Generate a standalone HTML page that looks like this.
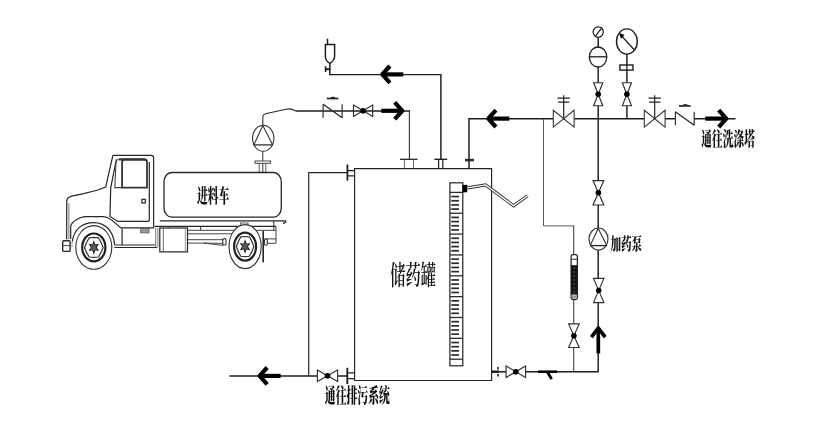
<!DOCTYPE html>
<html lang="zh">
<head>
<meta charset="utf-8">
<title>加药系统流程图</title>
<style>
html,body{margin:0;padding:0;background:#fff;}
body{width:839px;height:433px;overflow:hidden;position:relative;}
svg{display:block;position:absolute;left:0;top:0;filter:blur(0.45px);}
text{font-family:"Liberation Serif","Noto Serif CJK SC",serif;fill:#111;}
</style>
</head>
<body>
<svg width="839" height="433" viewBox="0 0 839 433">
<rect x="0" y="0" width="839" height="433" fill="#fff"/>
<g fill="none" stroke="#1c1c1c" stroke-width="1.45" stroke-linecap="butt" stroke-linejoin="miter">

<!-- ===== storage tank ===== -->
<g id="tank" stroke-width="1.15" stroke="#222">
<path d="M354.6,168.6 H491.6 V380.5 H354.6 Z"/>
<path d="M347.4,172.6 H308.7 V375.7"/>
<path d="M347.4,164.4 V180.6" stroke-width="1.8"/>
<path d="M347.5,170.6 H354.5 M347.5,175.8 H354.5" stroke="#222" stroke-width="1.2"/>
<!-- nozzles -->
<path d="M400,159.3 H417.5" stroke-width="1.3"/>
<path d="M404.4,159.3 V168.6 M413.5,159.3 V168.6" stroke="#555" stroke-width="0.9"/>
<path d="M434.4,159.3 H447.2" stroke-width="1.4"/>
<path d="M438.6,159.3 V168.6 M442.8,159.3 V168.6" stroke-width="1.2"/>
<path d="M465,160.1 H474" stroke="#333" stroke-width="2.6"/>
<!-- level gauge -->
<rect x="449.9" y="182.8" width="12.9" height="183" fill="#fff" stroke-width="1.2"/>
<g stroke="#2a2a2a">
<line x1="450" y1="192.40" x2="462.8" y2="192.40" stroke-width="1.3"/>
<line x1="451.3" y1="196.57" x2="459" y2="196.57" stroke-width="1.7"/>
<line x1="451.3" y1="200.74" x2="459" y2="200.74" stroke-width="1.7"/>
<line x1="451.3" y1="204.91" x2="459" y2="204.91" stroke-width="1.7"/>
<line x1="451.3" y1="209.08" x2="459" y2="209.08" stroke-width="1.7"/>
<line x1="450" y1="213.25" x2="462.8" y2="213.25" stroke-width="1.3"/>
<line x1="451.3" y1="217.42" x2="459" y2="217.42" stroke-width="1.7"/>
<line x1="451.3" y1="221.59" x2="459" y2="221.59" stroke-width="1.7"/>
<line x1="451.3" y1="225.76" x2="459" y2="225.76" stroke-width="1.7"/>
<line x1="451.3" y1="229.93" x2="459" y2="229.93" stroke-width="1.7"/>
<line x1="450" y1="234.10" x2="462.8" y2="234.10" stroke-width="1.3"/>
<line x1="451.3" y1="238.27" x2="459" y2="238.27" stroke-width="1.7"/>
<line x1="451.3" y1="242.44" x2="459" y2="242.44" stroke-width="1.7"/>
<line x1="451.3" y1="246.61" x2="459" y2="246.61" stroke-width="1.7"/>
<line x1="451.3" y1="250.78" x2="459" y2="250.78" stroke-width="1.7"/>
<line x1="450" y1="254.95" x2="462.8" y2="254.95" stroke-width="1.3"/>
<line x1="451.3" y1="259.12" x2="459" y2="259.12" stroke-width="1.7"/>
<line x1="451.3" y1="263.29" x2="459" y2="263.29" stroke-width="1.7"/>
<line x1="451.3" y1="267.46" x2="459" y2="267.46" stroke-width="1.7"/>
<line x1="451.3" y1="271.63" x2="459" y2="271.63" stroke-width="1.7"/>
<line x1="450" y1="275.80" x2="462.8" y2="275.80" stroke-width="1.3"/>
<line x1="451.3" y1="279.97" x2="459" y2="279.97" stroke-width="1.7"/>
<line x1="451.3" y1="284.14" x2="459" y2="284.14" stroke-width="1.7"/>
<line x1="451.3" y1="288.31" x2="459" y2="288.31" stroke-width="1.7"/>
<line x1="451.3" y1="292.48" x2="459" y2="292.48" stroke-width="1.7"/>
<line x1="450" y1="296.65" x2="462.8" y2="296.65" stroke-width="1.3"/>
<line x1="451.3" y1="300.82" x2="459" y2="300.82" stroke-width="1.7"/>
<line x1="451.3" y1="304.99" x2="459" y2="304.99" stroke-width="1.7"/>
<line x1="451.3" y1="309.16" x2="459" y2="309.16" stroke-width="1.7"/>
<line x1="451.3" y1="313.33" x2="459" y2="313.33" stroke-width="1.7"/>
<line x1="450" y1="317.50" x2="462.8" y2="317.50" stroke-width="1.3"/>
<line x1="451.3" y1="321.67" x2="459" y2="321.67" stroke-width="1.7"/>
<line x1="451.3" y1="325.84" x2="459" y2="325.84" stroke-width="1.7"/>
<line x1="451.3" y1="330.01" x2="459" y2="330.01" stroke-width="1.7"/>
<line x1="451.3" y1="334.18" x2="459" y2="334.18" stroke-width="1.7"/>
<line x1="450" y1="338.35" x2="462.8" y2="338.35" stroke-width="1.3"/>
<line x1="451.3" y1="342.52" x2="459" y2="342.52" stroke-width="1.7"/>
<line x1="451.3" y1="346.69" x2="459" y2="346.69" stroke-width="1.7"/>
<line x1="451.3" y1="350.86" x2="459" y2="350.86" stroke-width="1.7"/>
<line x1="451.3" y1="355.03" x2="459" y2="355.03" stroke-width="1.7"/>
<line x1="450" y1="359.20" x2="462.8" y2="359.20" stroke-width="1.3"/>
</g>
<rect x="462.6" y="184.9" width="4.6" height="7.4" fill="#000" stroke="none"/>
<path d="M467.4,187.9 L485.6,184.9 L513.6,205.8 L527.6,195.8" stroke="#333" stroke-width="3.2"/>
<path d="M467.4,187.9 L485.6,184.9 L513.6,205.8 L527.6,195.8" stroke="#fff" stroke-width="1.3"/>
</g>

<!-- ===== piping ===== -->
<g id="pipes">
<!-- vent -->
<path d="M440.9,159.3 V74.6 H329.8 V63.5"/>
<path d="M325.6,66.3 V72.1" stroke-width="1.6"/>
<path d="M325.6,69.2 H330.5" stroke-width="1.9"/>
<path d="M325.4,44.4 H334.6 V56.8 Q334.2,61 329.8,63.5 Q325.6,61 325.4,56.8 Z" fill="#fff"/>
<path d="M327.5,38.7 V44.4"/>
<!-- inlet from truck pump -->
<path d="M262.8,125.5 V116.5 Q263,114.6 265.5,113.8 L286,109.2 Q290.5,108.3 293,109.8 Q294.5,111 297,111" stroke="#2a2a2a" stroke-width="1.1"/>
<path d="M296.5,111 H410" stroke-width="1.3"/>
<path d="M409.4,111 V159.3" stroke="#333" stroke-width="1.1"/>
<!-- to tank from dosing return -->
<path d="M469,168.6 V118.7 H735.5"/>
<!-- vertical main -->
<path d="M598.2,38 V371.7 H491.7"/>
<path d="M626.9,53 V118.7"/>
<!-- flowmeter branch -->
<path d="M543.5,118.7 V225.9 H573.7" stroke="#5a5a5a" stroke-width="1"/>
<path d="M573.7,225.4 V371.7" stroke="#444" stroke-width="1.1"/>
<!-- drain -->
<path d="M229.5,375.9 H347.5"/>
<path d="M347.3,367.8 V384" stroke-width="1.8"/>
<path d="M347.5,372.9 H354.5 M347.5,378.6 H354.5" stroke="#222" stroke-width="1.2"/>
<!-- outlet small flange -->
<path d="M498,366.9 V376.6" stroke-width="1.6" stroke-dasharray="2.6,1"/>
<path d="M491.7,371.7 H498.4" stroke-width="2.4"/>
<!-- Y strainer -->
<path d="M538,371.7 H557" stroke="#000" stroke-width="2.6"/>
<path d="M547.2,371.7 L551.6,378.9" stroke="#000" stroke-width="2.8"/>
</g>

<!-- ===== valves ===== -->
<g id="valves">
<path d="M323.1,104.3 V117.7 M342.1,104.3 V117.7" stroke="#333" stroke-width="1.2" fill="none"/><path d="M323.1,104.3 L342.1,117.7" stroke="#2a2a2a" stroke-width="1.4" fill="none"/><path d="M326.8,98.5 H338.40000000000003" stroke="#222" stroke-width="1.7"/><path d="M331.1,97.5 H335.1" stroke="#222" stroke-width="1.4"/>
<path d="M353.50,105.05 L372.70,116.55 L372.70,105.05 L353.50,116.55 Z" fill="none" stroke="#303030" stroke-width="1.15"/><circle cx="363.1" cy="110.8" r="2.8" fill="#000" stroke="none"/>
<path d="M553.30,110.20 L574.10,127.20 L574.10,110.20 L553.30,127.20 Z" fill="#fff" stroke="#3a3a3a" stroke-width="1.1"/><path d="M563.7,118.7 V95.2" stroke="#222" stroke-width="1.2"/><path d="M557.5,98.1 H569.9000000000001 M558.1,102.2 H569.3000000000001" stroke="#222" stroke-width="1.2"/>
<path d="M644.30,110.20 L665.10,127.20 L665.10,110.20 L644.30,127.20 Z" fill="#fff" stroke="#3a3a3a" stroke-width="1.1"/><path d="M654.7,118.7 V95.2" stroke="#222" stroke-width="1.2"/><path d="M648.5,98.1 H660.9000000000001 M649.1,102.2 H660.3000000000001" stroke="#222" stroke-width="1.2"/>
<rect x="675.4" y="110.7" width="18.800000000000068" height="15.6" fill="#fff" stroke="none"/><path d="M675.4,111.7 V125.3 M694.2,111.7 V125.3" stroke="#333" stroke-width="1.2" fill="none"/><path d="M675.4,111.7 L694.2,125.3" stroke="#2a2a2a" stroke-width="1.4" fill="none"/><path d="M679.0,105.9 H690.5999999999999" stroke="#222" stroke-width="1.7"/><path d="M683.3,104.9 H687.3" stroke="#222" stroke-width="1.4"/>
<path d="M593.60,82.70 L602.80,82.70 L593.60,105.70 L602.80,105.70 Z" fill="#fff" stroke="#303030" stroke-width="1.15"/><circle cx="598.2" cy="94.2" r="2.8" fill="#000" stroke="none"/>
<path d="M622.30,82.70 L631.50,82.70 L622.30,105.70 L631.50,105.70 Z" fill="#fff" stroke="#303030" stroke-width="1.15"/><circle cx="626.9" cy="94.2" r="2.8" fill="#000" stroke="none"/>
<path d="M593.00,180.60 L603.80,180.60 L593.00,205.00 L603.80,205.00 Z" fill="#fff" stroke="#303030" stroke-width="1.15"/><circle cx="598.4" cy="192.8" r="2.8" fill="#000" stroke="none"/>
<path d="M593.50,278.40 L603.90,278.40 L593.50,302.60 L603.90,302.60 Z" fill="#fff" stroke="#303030" stroke-width="1.15"/><circle cx="598.7" cy="290.5" r="2.8" fill="#000" stroke="none"/>
<path d="M568.60,323.90 L579.20,323.90 L568.60,347.50 L579.20,347.50 Z" fill="#fff" stroke="#303030" stroke-width="1.15"/><circle cx="573.9" cy="335.7" r="2.8" fill="#000" stroke="none"/>
<path d="M317.40,370.00 L337.60,381.60 L337.60,370.00 L317.40,381.60 Z" fill="#fff" stroke="#303030" stroke-width="1.15"/><circle cx="327.5" cy="375.8" r="2.8" fill="#000" stroke="none"/>
<path d="M506.05,365.90 L525.55,377.50 L525.55,365.90 L506.05,377.50 Z" fill="#fff" stroke="#303030" stroke-width="1.15"/><circle cx="515.8" cy="371.7" r="2.8" fill="#000" stroke="none"/>
</g>

<!-- ===== instruments ===== -->
<g id="instruments">
<ellipse cx="598.2" cy="32.1" rx="5.1" ry="5.2" fill="#fff" stroke-width="1.2"/>
<path d="M595.6,35.8 L602.2,27.4" stroke-width="1.2"/>
<ellipse cx="598.05" cy="57" rx="8.7" ry="10" fill="#fff" stroke-width="1.3"/>
<path d="M589.4,56.8 H606.8" stroke-width="1.3"/>
<ellipse cx="626.9" cy="41.5" rx="10.4" ry="12.6" fill="#fff" stroke-width="1.4"/>
<path d="M620.4,34.6 L634.4,50" stroke-width="1.3"/>
<path d="M619.8,33.6 L624,35.2 L621.2,38.2 Z" fill="#000" stroke="#000" stroke-width="0.8"/>
<rect x="619.9" y="65" width="13.1" height="5.1" fill="#fff" stroke-width="1.4"/>
<path d="M626.9,65 V70.1" stroke-width="1.2"/>
<!-- flow meter -->
<rect x="571.1" y="254.6" width="6.3" height="44.9" rx="1.8" fill="#fff" stroke="#2a2a2a" stroke-width="1.3"/>
<rect x="571.1" y="265.2" width="6.3" height="29.4" fill="#141414" stroke="none"/>
<path d="M574.3,267 V293" stroke="#555" stroke-width="1" stroke-dasharray="2.2,1.8"/>
<rect x="571.8" y="295.3" width="4.9" height="3.2" fill="#999" stroke="none"/>
<path d="M571.1,259.3 H577.4" stroke="#333" stroke-width="1"/>
<!-- dosing pump -->
<ellipse cx="598.5" cy="239.1" rx="9.5" ry="11.1" fill="#fff" stroke="#3a3a3a" stroke-width="1.2"/>
<path d="M598.2,228.4 L590.2,245.5 M598.2,228.4 L606.8,245.5" stroke="#333" stroke-width="1.1"/>
<path d="M589.8,245.6 H607.2" stroke="#222" stroke-width="1.3"/>
<!-- truck pump -->
<ellipse cx="263.2" cy="138.3" rx="10.7" ry="13" fill="#fff" stroke="#333" stroke-width="1.1"/>
<path d="M262.8,125.6 L253.9,144.8 M262.8,125.6 L272.6,144.8" stroke="#333" stroke-width="1.1"/>
<path d="M253.4,144.9 H273" stroke="#222" stroke-width="1.2"/>
<path d="M262.8,151.3 V172" stroke="#333" stroke-width="1"/>
<rect x="255" y="161" width="15.5" height="2.3" fill="#fff" stroke="#333" stroke-width="0.9"/>
<path d="M259.2,163.3 V172 M265.8,163.3 V172" stroke="#444" stroke-width="0.9"/>
</g>

<!-- ===== arrows ===== -->
<g id="arrows">
<path d="M382.3,74.4 H403.3" stroke="#000" stroke-width="4.2" fill="none" stroke-linejoin="round"/><path d="M389.90000000000003,66.0 L382.3,74.4 L389.90000000000003,82.80000000000001" stroke="#000" stroke-width="4.2" fill="none" stroke-linejoin="round"/>
<path d="M402.3,110.8 H381.3" stroke="#000" stroke-width="4.2" fill="none" stroke-linejoin="round"/><path d="M394.7,102.39999999999999 L402.3,110.8 L394.7,119.2" stroke="#000" stroke-width="4.2" fill="none" stroke-linejoin="round"/>
<path d="M488.3,118.6 H509.3" stroke="#000" stroke-width="4.2" fill="none" stroke-linejoin="round"/><path d="M495.90000000000003,110.19999999999999 L488.3,118.6 L495.90000000000003,127.0" stroke="#000" stroke-width="4.2" fill="none" stroke-linejoin="round"/>
<path d="M726.3000000000001,118.6 H705.3000000000001" stroke="#000" stroke-width="4.2" fill="none" stroke-linejoin="round"/><path d="M718.7,110.19999999999999 L726.3000000000001,118.6 L718.7,127.0" stroke="#000" stroke-width="4.2" fill="none" stroke-linejoin="round"/>
<path d="M259.6,375.9 H280.6" stroke="#000" stroke-width="4.2" fill="none" stroke-linejoin="round"/><path d="M267.20000000000005,367.5 L259.6,375.9 L267.20000000000005,384.29999999999995" stroke="#000" stroke-width="4.2" fill="none" stroke-linejoin="round"/>
<path d="M598.3,328.0 V353.4" stroke="#000" stroke-width="3.7" fill="none" stroke-linejoin="round"/><path d="M591.4,337.2 L598.3,328.0 L605.1999999999999,337.2" stroke="#000" stroke-width="3.7" fill="none" stroke-linejoin="round"/>
</g>

<!-- ===== truck ===== -->
<g id="truck" stroke="#262626" stroke-width="1.2">
<!-- tank -->
<rect x="164" y="172.5" width="117.3" height="44.6" rx="7.6" ry="9.4" fill="#fff" stroke-width="1.3"/>
<!-- platform -->
<path d="M159.8,220.8 H285.6 V222.2 L283,223.6" stroke-width="1.3"/>
<path d="M154.6,226.3 H276" stroke-width="1.3"/>
<path d="M187.5,230.3 H276 M187.5,233.8 H232 M187.5,239.7 H224 M187.5,243.1 H205" stroke="#444" stroke-width="1"/>
<path d="M200.6,226.3 V230.3 M273.8,221 V230.3" stroke="#333" stroke-width="1"/>
<path d="M204,243.1 L222.6,245.4 V243.4 Z" stroke="#333" stroke-width="0.9"/>
<rect x="222.8" y="238.6" width="3.2" height="6.4" rx="1.3" fill="#fff" stroke="#333" stroke-width="1.1"/>
<!-- rear frame -->
<path d="M276,226.3 V243.3 H265 M266,238.9 H276" stroke="#444" stroke-width="1"/>
<path d="M263.2,230.9 V262.2" stroke-width="1.6"/>
<rect x="264.4" y="238.9" width="2.9" height="6.4" rx="1.2" fill="#fff" stroke="#333" stroke-width="1.1"/>
<!-- tool box -->
<rect x="159.8" y="228" width="27.7" height="23.9" fill="#fff" stroke-width="1.2"/>
<path d="M163.3,228 V251.9" stroke="#555" stroke-width="0.9"/>
<path d="M185.3,228 V251.9" stroke="#777" stroke-width="0.8"/>
<path d="M163.8,226.5 H169 V228" stroke="#333" stroke-width="1"/>
<!-- cab -->
<path d="M112.9,155.3 H151.2 Q153.6,155.3 153.6,157.8 V227.9"/>
<path d="M112.9,155.3 L105.7,187.1 L97.9,190 L83.6,193.6 L71.5,196.2 Q66.7,197.4 66.7,202 V239.5"/>
<path d="M68.9,203 V239.5" stroke="#555" stroke-width="0.8"/>
<path d="M116.4,159.3 L110.7,187.9 L110,216.4 L117.9,221.4 H147.9 Q149.3,221.4 149.3,220 V162"/>
<path d="M122.1,187.6 V162 Q122.1,159.5 124.8,159.5 H144.3 Q147,159.5 147,162 V187.6 Z" stroke="#333" stroke-width="1.8"/>
<path d="M119,159.4 H145" stroke="#333" stroke-width="2.2"/>
<path d="M122.1,159.3 H119 Q116.5,159.6 116,162 L114.8,187.6 H122.1" stroke="#444" stroke-width="1.1"/>
<rect x="141.9" y="199.4" width="3.4" height="3.6" stroke-width="1.2"/>
<!-- bumper -->
<rect x="62.7" y="240.8" width="7.4" height="10.6" rx="1" fill="#fff" stroke="#2a2a2a" stroke-width="1.4"/>
<path d="M62.9,245.6 H70.1" stroke="#444" stroke-width="1"/>
<path d="M70.1,243 H73 M70.1,246 H73" stroke="#555" stroke-width="0.8"/>
<!-- fender -->
<path d="M70.7,239 V226.5 Q71.5,222.5 76,220 Q80,217.2 84.5,216.6 H103.6 Q108,217 112,220.4 L121,227.9 H153.6"/>
<path d="M72.3,241.4 C74,229 82.5,222.6 93.5,222.6 C105.5,222.6 113.5,231 114.6,244.8" />
<!-- step box -->
<path d="M122.1,228.6 V245 H155 M114.3,245 H122.1 M114.3,247.5 H157"/>
<path d="M155.7,227.9 V247.5 M157.9,227.9 V247.5" stroke="#555" stroke-width="0.8"/>
<rect x="140.7" y="228.6" width="8.3" height="4.3" fill="#999" stroke="#555" stroke-width="0.8"/>
<!-- wheels -->
<ellipse cx="93.8" cy="247.4" rx="18" ry="21.8" fill="#fff" stroke="#333" stroke-width="1.1"/><ellipse cx="93.8" cy="247.4" rx="11.6" ry="13.9" fill="none" stroke="#222" stroke-width="2.2"/><polygon points="103.10,247.40 101.05,252.40 98.45,257.01 93.80,257.39 89.15,257.01 86.55,252.40 84.50,247.40 86.55,242.41 89.15,237.79 93.80,237.41 98.45,237.79 101.05,242.41" fill="none" stroke="#333" stroke-width="1.2"/><polygon points="93.80,241.80 94.95,245.06 97.92,244.60 96.09,247.40 97.92,250.20 94.95,249.74 93.80,253.00 92.65,249.74 89.68,250.20 91.50,247.40 89.68,244.60 92.65,245.06" fill="#999" stroke="#222" stroke-width="1.1"/><ellipse cx="93.8" cy="247.4" rx="1.7" ry="2" fill="#666" stroke="#333" stroke-width="0.7"/>
<rect x="240.4" y="223" width="7.6" height="3" fill="#fff" stroke="#555" stroke-width="0.9"/>
<ellipse cx="245.1" cy="246.6" rx="16.1" ry="22" fill="#fff" stroke="#333" stroke-width="1.1"/><ellipse cx="245.1" cy="246.6" rx="11" ry="14" fill="none" stroke="#222" stroke-width="2.2"/><polygon points="253.80,246.60 251.88,251.64 249.45,256.30 245.10,256.68 240.75,256.30 238.32,251.64 236.40,246.60 238.32,241.56 240.75,236.90 245.10,236.52 249.45,236.90 251.88,241.56" fill="none" stroke="#333" stroke-width="1.2"/><polygon points="245.10,241.00 246.25,244.26 249.22,243.80 247.39,246.60 249.22,249.40 246.25,248.94 245.10,252.20 243.95,248.94 240.98,249.40 242.81,246.60 240.98,243.80 243.95,244.26" fill="#999" stroke="#222" stroke-width="1.1"/><ellipse cx="245.1" cy="246.6" rx="1.7" ry="2" fill="#666" stroke="#333" stroke-width="0.7"/>
</g>
</g>

<!-- ===== labels ===== -->
<g id="labels" stroke="none">
<text transform="translate(197,203.2) scale(0.555,1)" font-size="19.5" font-weight="900">进料车</text>
<text transform="translate(390.3,285) scale(0.565,1)" font-size="27" font-weight="600">储药罐</text>
<text transform="translate(701.3,145.7) scale(0.553,1)" font-size="19.4" font-weight="900">通往洗涤塔</text>
<text transform="translate(610.6,250.2) scale(0.6,1)" font-size="17.5" font-weight="900">加药泵</text>
<text transform="translate(324.8,403.4) scale(0.542,1)" font-size="20" font-weight="900">通往排污系统</text>
</g>
</svg>
</body>
</html>
